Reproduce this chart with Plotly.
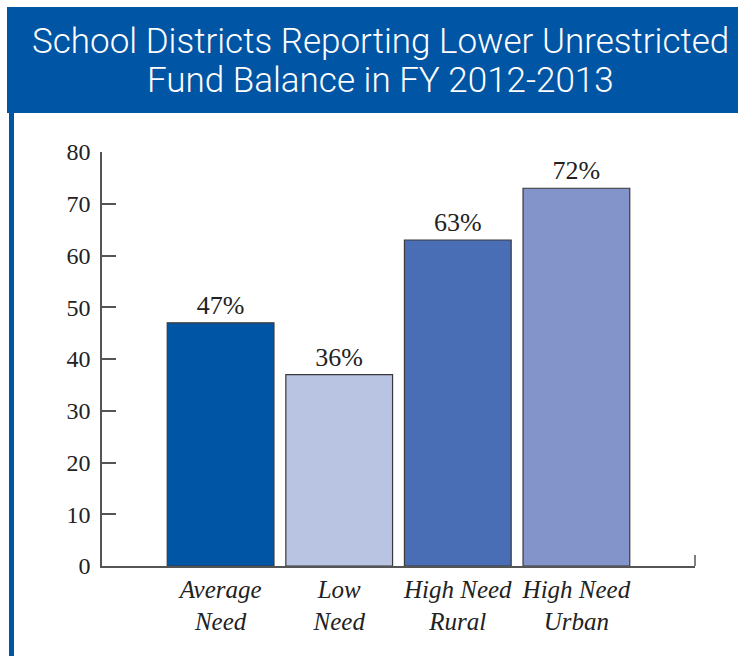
import plotly.graph_objects as go

categories = ["Average Need", "Low Need", "High Need Rural", "High Need Urban"]
bar_values = [47, 37, 63, 73]
value_labels = ["47%", "36%", "63%", "72%"]
bar_colors = ["#0055A4", "#B9C3E2", "#4A6EB5", "#8294C9"]
y_ticks = [0, 10, 20, 30, 40, 50, 60, 70, 80]
tick_text = ["<i>Average<br>Need</i>", "<i>Low<br>Need</i>",
             "<i>High Need<br>Rural</i>", "<i>High Need<br>Urban</i>"]
title_lines = ["School Districts Reporting Lower Unrestricted",
               "Fund Balance in FY 2012-2013"]

W, H = 738, 656
L, R, T, B = 102, 43, 152, 90
pw, ph = W - L - R, H - T - B

def px_x(p):  # page pixel -> paper
    return (p - L) / pw

def px_y(p):
    return (H - B - p) / ph

fig = go.Figure()
fig.add_trace(go.Bar(
    x=list(range(len(categories))), y=bar_values,
    marker=dict(color=bar_colors, line=dict(color="#3a3a3a", width=1.2)),
    text=value_labels, textposition="outside", cliponaxis=False,
    textfont=dict(family="Liberation Serif", size=26, color="#222222"),
    width=0.9, hoverinfo="skip",
))

shapes = [
    dict(type="rect", xref="paper", yref="paper", x0=px_x(7), x1=px_x(745),
         y0=px_y(113), y1=px_y(7), fillcolor="#0055A5", line=dict(width=0), layer="below"),
    dict(type="rect", xref="paper", yref="paper", x0=px_x(9), x1=px_x(14),
         y0=px_y(670), y1=px_y(113), fillcolor="#0055A5", line=dict(width=0), layer="below"),
    dict(type="line", xref="x domain", yref="y domain", x0=1, x1=1, y0=0, y1=11 / ph,
         line=dict(color="#555555", width=1.5)),
]

annotations = []
for line, ypx in zip(title_lines, [42, 81]):
    annotations.append(dict(
        text=line, xref="paper", yref="paper", x=px_x(380), y=px_y(ypx),
        xanchor="center", yanchor="middle", showarrow=False,
        font=dict(family="Roboto, Liberation Sans", size=35, color="white", weight=300),
    ))

fig.update_layout(
    width=W, height=H,
    margin=dict(l=L, r=R, t=T, b=B, autoexpand=False),
    paper_bgcolor="white", plot_bgcolor="white",
    showlegend=False,
    shapes=shapes,
    annotations=annotations,
    xaxis=dict(
        range=[-1, 4], tickvals=list(range(len(categories))), ticktext=tick_text,
        showline=True, linecolor="#555555", linewidth=1.5, ticks="", showgrid=False,
        zeroline=False, fixedrange=True, ticklabelstandoff=0,
        tickfont=dict(family="Liberation Serif", size=25, color="#222222"),
    ),
    yaxis=dict(
        range=[0, 80], tickvals=y_ticks, showline=True, linecolor="#555555", linewidth=1.5,
        ticks="inside", ticklen=14, tickwidth=1.5, tickcolor="#555555",
        showgrid=False, zeroline=False, ticklabelstandoff=5, fixedrange=True,
        tickfont=dict(family="Liberation Serif", size=24, color="#222222"),
    ),
)

fig.write_html(
    "out.html",
    config={"displayModeBar": False},
    post_script="document.body.style.margin='0';document.body.style.overflow='hidden';",
)
